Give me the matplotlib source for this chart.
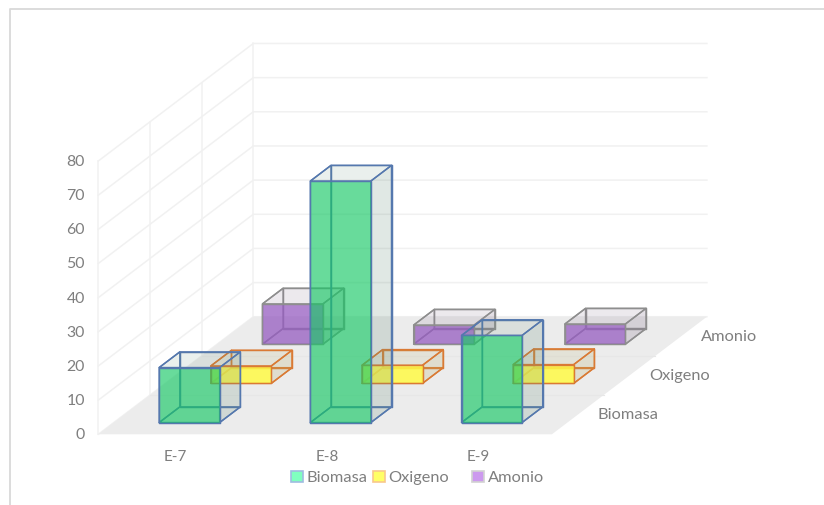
"""
Barras 3D oblicuas: Biomasa, Oxigeno y Amonio por experimento.
Las cajas se proyectan a 2D con un desplazamiento fijo por fila de profundidad.
"""

import matplotlib
matplotlib.use("Agg")
import matplotlib.pyplot as plt
from matplotlib.patches import Polygon, Rectangle

categories = ["E-7", "E-8", "E-9"]
series = ["Biomasa", "Oxigeno", "Amonio"]
biomasa = [16.1, 70.7, 25.5]
oxigeno = [5.1, 5.3, 5.5]
amonio = [11.8, 5.6, 5.9]
y_ticks = [0, 10, 20, 30, 40, 50, 60, 70, 80]

# shift of one depth row, in x (category) and y (value) units
DX = 0.3417
DY = 11.47
BAR_LO, BAR_HI = 0.3, 0.7

# front, side, top: (colour, alpha), then edge colour
STYLES = {
    "Biomasa": dict(front=("#17C865", 0.65), side=("#648C78", 0.20), top=("#648C78", 0.13),
                    edge="#5578AE", swatch="#80FFBF", swatch_edge="#A0BCE0"),
    "Oxigeno": dict(front=("#FFFB46", 0.85), side=("#B4AA64", 0.22), top=("#B4AA64", 0.15),
                    edge="#DA7A34", swatch="#FFFF66", swatch_edge="#F8C88C"),
    "Amonio": dict(front=("#965CC1", 0.75), side=("#82708C", 0.22), top=("#82708C", 0.15),
                   edge="#8E8E8E", swatch="#CC99EE", swatch_edge="#D2D2D2"),
}
TEXT_COLOR = "#7F7F7F"
GRID_COLOR = "#F1F1F1"

plt.rcParams["font.family"] = ["Lato", "DejaVu Sans"]

fig = plt.figure(figsize=(8.24, 5.06), dpi=100)
ax = fig.add_axes([0, 0, 1, 1])
ax.set_xlim(-98.3 / 151.2, (824 - 98.3) / 151.2)
ax.set_ylim((435.3 - 506) / 3.416, 435.3 / 3.416)
ax.axis("off")


def pt(x, v, d):
    return (x + d * DX, v + d * DY)


def face(corners, fc, alpha, edge, z):
    ax.add_patch(Polygon(corners, closed=True, facecolor=matplotlib.colors.to_rgba(fc, alpha),
                         edgecolor=edge, linewidth=1.05, joinstyle="round", zorder=z))


def box(cat, row, value, st, z):
    x0, x1 = cat + BAR_LO, cat + BAR_HI
    d0, d1 = row + BAR_LO, row + BAR_HI
    # hidden faces first, so the front one tints their edges
    face([pt(x0, 0, d1), pt(x1, 0, d1), pt(x1, value, d1), pt(x0, value, d1)], "white", 0, st["edge"], z)
    face([pt(x0, 0, d0), pt(x0, 0, d1), pt(x0, value, d1), pt(x0, value, d0)], "white", 0, st["edge"], z + 0.1)
    face([pt(x0, 0, d0), pt(x1, 0, d0), pt(x1, 0, d1), pt(x0, 0, d1)], "white", 0, st["edge"], z + 0.2)
    face([pt(x1, 0, d0), pt(x1, 0, d1), pt(x1, value, d1), pt(x1, value, d0)], *st["side"], st["edge"], z + 0.3)
    face([pt(x0, value, d0), pt(x1, value, d0), pt(x1, value, d1), pt(x0, value, d1)], *st["top"], st["edge"], z + 0.4)
    face([pt(x0, 0, d0), pt(x1, 0, d0), pt(x1, value, d0), pt(x0, value, d0)], *st["front"], st["edge"], z + 0.5)


n_cat = len(categories)
n_row = len(series)
top = y_ticks[-1]

# ---------------------------------------------------------------------------
# floor and walls
# ---------------------------------------------------------------------------
ax.add_patch(Polygon([pt(0, 0, 0), pt(n_cat, 0, 0), pt(n_cat, 0, n_row), pt(0, 0, n_row)],
                     facecolor="#ECECEC", edgecolor="none", zorder=1))
for d in range(1, n_row):
    a, b = pt(0, 0, d), pt(n_cat, 0, d)
    ax.plot([a[0], b[0]], [a[1], b[1]], color="#E7E7E7", lw=0.8, zorder=1.1)

for t in y_ticks:
    a, b, c = pt(0, t, 0), pt(0, t, n_row), pt(n_cat, t, n_row)
    ax.plot([a[0], b[0], c[0]], [a[1], b[1], c[1]], color=GRID_COLOR, lw=1.1, zorder=0.5)
for d in range(n_row + 1):
    a, b = pt(0, 0, d), pt(0, top, d)
    ax.plot([a[0], b[0]], [a[1], b[1]], color=GRID_COLOR, lw=1.1, zorder=0.5)

# ---------------------------------------------------------------------------
# boxes, back row first
# ---------------------------------------------------------------------------
z = 2
for row, values in reversed(list(enumerate([biomasa, oxigeno, amonio]))):
    for cat, v in enumerate(values):
        box(cat, row, v, STYLES[series[row]], z)
        z += 1

# ---------------------------------------------------------------------------
# labels
# ---------------------------------------------------------------------------
for t in y_ticks:
    ax.text(-13.5 / 151.2, t, str(t), ha="right", va="center", color=TEXT_COLOR, fontsize=11.4)
for i, c in enumerate(categories):
    ax.text(i + 0.512, -6.4, c, ha="center", va="center", color=TEXT_COLOR, fontsize=10.9)
for row, s in enumerate(series):
    x, v = pt(n_cat, 0, row + 0.5)
    ax.text(x + 20 / 151.2, v + 0.1, s, ha="left", va="center", color=TEXT_COLOR, fontsize=11.8)

# ---------------------------------------------------------------------------
# legend and chart frame, placed in figure pixels
# ---------------------------------------------------------------------------
swatch_px = [291, 373, 472]
for s, sx in zip(series, swatch_px):
    st = STYLES[s]
    fig.add_artist(Rectangle((sx / 824, 1 - 483 / 506), 11.5 / 824, 11 / 506, transform=fig.transFigure,
                             facecolor=st["swatch"], edgecolor=st["swatch_edge"], linewidth=1.2))
    fig.text((sx + 15.5) / 824, 1 - 478 / 506, s, ha="left", va="center", color=TEXT_COLOR, fontsize=11.8)

fig.add_artist(plt.Line2D([10 / 824, 10 / 824, 1], [0, 1 - 10 / 506, 1 - 10 / 506],
                          color="#D9D9D9", lw=1.3, transform=fig.transFigure))

fig.savefig("out.png", dpi=100)
